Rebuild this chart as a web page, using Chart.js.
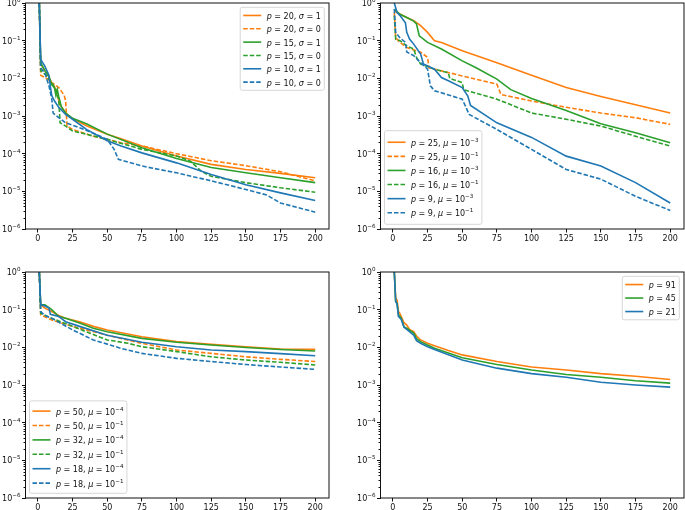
<!DOCTYPE html>
<html>
<head>
<meta charset="utf-8">
<script src="https://cdn.jsdelivr.net/npm/chart.js@4.4.0/dist/chart.umd.min.js"></script>
<style>
  body { margin: 0; background: #fff; overflow: hidden; width: 685px; height: 510px; }
  canvas { position: absolute; }
</style>
</head>
<body>
<canvas id="c1"></canvas>
<canvas id="c2"></canvas>
<canvas id="c3"></canvas>
<canvas id="c4"></canvas>
<script>
// axis ticks ("^" marks a superscript)
const xTicks = [0, 25, 50, 75, 100, 125, 150, 175, 200];
const xTickLabels = ['0', '25', '50', '75', '100', '125', '150', '175', '200'];
const yTicks = [1e-6, 1e-5, 1e-4, 1e-3, 1e-2, 1e-1, 1];
const yTickLabels = ['10^−6', '10^−5', '10^−4', '10^−3', '10^−2', '10^−1', '10^0'];

// top left: [iteration, residual]
const p20s1 = [[1,1],[2,0.024],[5,0.016],[8,0.011],[10,0.0075],[12,0.006],[14,0.0035],[16,0.002],[20,0.0012],[25,8.5e-4],[35,5.5e-4],[50,3.3e-4],[60,2.5e-4],[75,1.6e-4],[100,8.7e-5],[125,5.2e-5],[150,3.8e-5],[175,3.0e-5],[200,2.3e-5]];
const p20s0 = [[1,1],[2,0.012],[5,0.0105],[8,0.009],[10,0.0077],[13,0.0065],[15,0.0057],[17,0.0045],[19,0.0035],[20,0.0025],[21,5.4e-4],[25,4.4e-4],[40,2.9e-4],[50,2.4e-4],[60,1.95e-4],[75,1.6e-4],[100,1.0e-4],[125,6.5e-5],[150,4.8e-5],[175,3.3e-5],[200,1.9e-5]];
const p15s1 = [[1,1],[2,0.026],[5,0.016],[8,0.011],[10,0.0068],[12,0.0055],[13,0.0035],[14,0.005],[15,0.0033],[17,0.0017],[20,0.0012],[25,8.7e-4],[35,6.2e-4],[50,3.3e-4],[75,1.44e-4],[100,7.4e-5],[125,4.3e-5],[150,3.1e-5],[175,2.3e-5],[200,1.7e-5]];
const p15s0 = [[1,1],[2,0.016],[5,0.013],[10,0.0077],[13,0.005],[15,0.0028],[16,6.6e-4],[20,5.4e-4],[25,4.0e-4],[50,2.4e-4],[75,1.3e-4],[100,8.7e-5],[110,6.3e-5],[118,3.4e-5],[125,2.5e-5],[150,1.7e-5],[175,1.24e-5],[200,9.5e-6]];
const p10s1 = [[1,1],[2,0.032],[5,0.021],[8,0.012],[9,0.006],[10,0.0035],[12,0.0025],[15,0.0017],[20,0.0011],[25,8.2e-4],[35,4.4e-4],[50,2.2e-4],[60,1.6e-4],[75,1.05e-4],[100,5.7e-5],[125,2.8e-5],[150,1.5e-5],[175,9.1e-6],[200,5.7e-6]];
const p10s0 = [[1,1],[2,0.019],[5,0.014],[8,0.0063],[10,0.0028],[11,0.0012],[15,9e-4],[20,6.6e-4],[30,4.9e-4],[45,2.9e-4],[50,2.4e-4],[55,1.3e-4],[58,7.1e-5],[75,4.7e-5],[100,3.1e-5],[125,1.9e-5],[150,1.12e-5],[165,8e-6],[175,4.9e-6],[200,2.8e-6]];

// top right
const p25m3 = [[1,0.62],[5,0.51],[10,0.41],[15,0.34],[20,0.25],[25,0.166],[30,0.1],[35,0.09],[50,0.054],[75,0.026],[100,0.012],[125,0.0057],[150,0.0033],[175,0.002],[200,0.0012]];
const p25m1 = [[1,0.56],[2,0.12],[5,0.09],[10,0.066],[20,0.049],[25,0.036],[26,0.019],[30,0.0175],[50,0.0116],[75,0.007],[78,0.0037],[100,0.0025],[125,0.0017],[150,0.0012],[175,9e-4],[200,6e-4]];
const p16m3 = [[1,0.69],[5,0.5],[10,0.41],[15,0.33],[17,0.28],[19,0.135],[25,0.09],[35,0.06],[50,0.029],[60,0.019],[75,0.0095],[85,0.005],[100,0.0029],[125,0.0014],[150,6.2e-4],[175,3.6e-4],[200,1.95e-4]];
const p16m1 = [[1,0.46],[2,0.11],[5,0.1],[10,0.073],[15,0.06],[17,0.036],[20,0.024],[30,0.0175],[40,0.014],[41,0.01],[50,0.0077],[51,0.005],[75,0.0028],[100,0.0012],[125,8.2e-4],[150,5.4e-4],[175,2.9e-4],[200,1.6e-4]];
const p9m3 = [[1,1],[3,0.56],[5,0.47],[9,0.3],[10,0.166],[12,0.11],[15,0.081],[20,0.044],[22,0.024],[30,0.0175],[35,0.0105],[40,0.0086],[50,0.0057],[54,0.0034],[56,0.0019],[75,6.6e-4],[100,2.7e-4],[125,8.6e-5],[150,4.7e-5],[175,1.7e-5],[200,4.9e-6]];
const p9m1 = [[1,0.69],[2,0.166],[5,0.12],[9,0.09],[10,0.05],[15,0.04],[20,0.026],[25,0.0175],[27,0.0063],[30,0.0047],[50,0.0028],[55,0.0011],[75,4.4e-4],[100,1.3e-4],[125,3.8e-5],[150,2.1e-5],[175,7.4e-6],[200,3.1e-6]];

// bottom left
const p50m4 = [[1,1],[2,0.134],[5,0.11],[10,0.089],[15,0.07],[20,0.059],[30,0.048],[40,0.036],[50,0.029],[75,0.019],[100,0.0142],[125,0.012],[150,0.0104],[175,0.009],[200,0.0088]];
const p50m1 = [[1,1],[2,0.073],[10,0.053],[25,0.036],[50,0.021],[75,0.0128],[100,0.0085],[125,0.0069],[150,0.0056],[175,0.0048],[200,0.0042]];
const p32m4 = [[1,1],[2,0.134],[5,0.134],[10,0.1],[15,0.066],[20,0.059],[30,0.044],[40,0.032],[50,0.026],[75,0.0173],[100,0.0136],[125,0.0115],[150,0.0099],[175,0.0088],[200,0.008]];
const p32m1 = [[1,1],[2,0.08],[10,0.059],[25,0.036],[50,0.0157],[65,0.0128],[75,0.0104],[100,0.0077],[125,0.0056],[150,0.0046],[175,0.004],[200,0.0034]];
const p18m4 = [[1,1],[2,0.14],[5,0.125],[8,0.11],[9,0.075],[15,0.066],[20,0.048],[30,0.036],[50,0.021],[75,0.0136],[100,0.0104],[125,0.0085],[150,0.0077],[175,0.0068],[200,0.006]];
const p18m1 = [[1,1],[2,0.089],[5,0.07],[10,0.059],[25,0.029],[40,0.0157],[60,0.0094],[75,0.0069],[100,0.0051],[125,0.0042],[150,0.0035],[175,0.003],[200,0.0026]];

// bottom right
const p91 = [[1,1],[2,0.2],[3,0.18],[4,0.089],[5,0.08],[6,0.066],[8,0.045],[10,0.039],[12,0.03],[15,0.026],[17,0.02],[20,0.0157],[25,0.0128],[30,0.011],[40,0.0082],[50,0.0063],[75,0.0042],[100,0.003],[125,0.0025],[150,0.002],[175,0.0017],[200,0.0014]];
const p45 = [[1,1],[2,0.165],[3,0.15],[4,0.073],[6,0.06],[8,0.035],[10,0.032],[15,0.024],[17,0.017],[20,0.0142],[25,0.0115],[30,0.0095],[50,0.0053],[75,0.0035],[100,0.0025],[125,0.0019],[150,0.0016],[175,0.0013],[200,0.00112]];
const p21 = [[1,1],[2,0.165],[3,0.14],[4,0.066],[6,0.055],[8,0.034],[10,0.03],[15,0.021],[17,0.015],[20,0.0128],[25,0.0104],[30,0.0088],[50,0.0046],[75,0.0028],[100,0.002],[125,0.0016],[150,0.00118],[175,0.001],[200,8.8e-4]];

const names1 = ['p = 20, σ = 1', 'p = 20, σ = 0', 'p = 15, σ = 1', 'p = 15, σ = 0', 'p = 10, σ = 1', 'p = 10, σ = 0'];
const names2 = ['p = 25, μ = 10^−3', 'p = 25, μ = 10^−1', 'p = 16, μ = 10^−3', 'p = 16, μ = 10^−1', 'p = 9, μ = 10^−3', 'p = 9, μ = 10^−1'];
const names3 = ['p = 50, μ = 10^−4', 'p = 50, μ = 10^−1', 'p = 32, μ = 10^−4', 'p = 32, μ = 10^−1', 'p = 18, μ = 10^−4', 'p = 18, μ = 10^−1'];
const names4 = ['p = 91', 'p = 45', 'p = 21'];

const ORANGE = '#ff7f0e', GREEN = '#2ca02c', BLUE = '#1f77b4';
const colors6 = [ORANGE, ORANGE, GREEN, GREEN, BLUE, BLUE];
const dash6 = [false, true, false, true, false, true];
const FONT = '"DejaVu Sans", sans-serif';
const INK = '#111';
const FS = 8;

// tiny mathtext: p/σ/μ italic, "^xx" superscript
const mathRuns = (t) => {
  const out = [];
  t.replace(/\^(\S+)|([pσμ])|([^pσμ^]+)/g, (m, sup, it, plain) => {
    if (sup) out.push({ s: sup, sup: true });
    else if (it) out.push({ s: it, it: true });
    else out.push({ s: plain });
    return m;
  });
  return out;
};
const runFont = (r) => (r.it ? 'italic ' : '') + (r.sup ? FS * 0.7 : FS) + 'px ' + FONT;
const mathWidth = (ctx, t) => mathRuns(t).reduce((w, r) => {
  ctx.font = runFont(r);
  return w + ctx.measureText(r.s).width;
}, 0);
// x = left edge, y = vertical centre of the digits
const drawMath = (ctx, t, x, y) => {
  const base = y + FS * 0.365;
  ctx.textBaseline = 'alphabetic';
  ctx.textAlign = 'left';
  mathRuns(t).forEach((r) => {
    ctx.font = runFont(r);
    ctx.fillText(r.s, x, r.sup ? base - FS * 0.5 : base);
    x += ctx.measureText(r.s).width;
  });
};

// box around the plot area, minor ticks and y labels of the log axis
const framePlugin = {
  id: 'frame',
  afterDatasetsDraw(chart) {
    const { ctx, chartArea: a } = chart;
    const y = chart.scales.y;
    ctx.save();
    ctx.strokeStyle = INK;
    ctx.lineWidth = 1;
    ctx.strokeRect(a.left, a.top, a.right - a.left, a.bottom - a.top);
    ctx.beginPath();
    for (let e = -6; e < 0; e++) {
      for (let k = 2; k < 10; k++) {
        const py = Math.round(y.getPixelForValue(k * Math.pow(10, e))) + 0.5;
        ctx.moveTo(a.left - 2, py);
        ctx.lineTo(a.left, py);
      }
    }
    ctx.stroke();
    ctx.fillStyle = INK;
    yTicks.forEach((v, i) => {
      const w = mathWidth(ctx, yTickLabels[i]);
      drawMath(ctx, yTickLabels[i], a.left - 5 - w, y.getPixelForValue(v));
    });
    ctx.restore();
  }
};

// matplotlib-like legend box
const legendPlugin = {
  id: 'mplLegend',
  afterDraw(chart, args, o) {
    const { ctx, chartArea: a } = chart;
    const ds = chart.data.datasets;
    ctx.save();
    const textW = Math.max(...ds.map((d) => mathWidth(ctx, d.label)));
    const padL = 3, handle = 18, gap = 5.5, padR = 3.5;
    const w = padL + handle + gap + textW + padR;
    const h = ds.length * o.rowH + o.padY * 2;
    const x = o.loc === 'ur' ? a.right - 4.7 - w : a.left + 4;
    const y = o.loc === 'ur' ? a.top + 4.3 : a.bottom - 4.7 - h;

    ctx.beginPath();
    ctx.roundRect(x, y, w, h, 2);
    ctx.fillStyle = 'rgba(255,255,255,0.8)';
    ctx.fill();
    ctx.strokeStyle = '#d6d6d6';
    ctx.lineWidth = 1;
    ctx.stroke();

    ds.forEach((d, i) => {
      const cy = y + o.padY + o.rowH * (i + 0.5);
      ctx.beginPath();
      ctx.strokeStyle = d.borderColor;
      ctx.lineWidth = d.borderWidth;
      ctx.setLineDash(d.borderDash);
      ctx.moveTo(x + padL, cy);
      ctx.lineTo(x + padL + handle, cy);
      ctx.stroke();
      ctx.setLineDash([]);
      ctx.fillStyle = INK;
      drawMath(ctx, d.label, x + padL + handle + gap, cy + 0.5);
    });
    ctx.restore();
  }
};

// box: canvas position/size (cx, cy, cw, ch) and plot area edges (l, t, r, b) in page pixels
const makeChart = (id, box, series, names, colors, dashes, legend) => {
  const el = document.getElementById(id);
  el.style.left = box.cx + 'px';
  el.style.top = box.cy + 'px';
  el.width = box.cw;
  el.height = box.ch;

  const tickFont = { family: FONT, size: FS };
  const grid = { display: true, drawOnChartArea: false, drawTicks: true, tickLength: 3.5, tickColor: INK, tickWidth: 1 };

  return new Chart(el, {
    type: 'line',
    data: {
      datasets: series.map((d, i) => ({
        data: d,
        label: names[i],
        borderColor: colors[i],
        borderWidth: 1.6,
        borderDash: dashes[i] ? [4.5, 2] : [],
        pointRadius: 0,
        fill: false,
        tension: 0,
        order: -i, // later series on top, as in matplotlib
      })),
    },
    options: {
      responsive: false,
      animation: false,
      devicePixelRatio: 1,
      layout: { padding: { top: box.t - box.cy, right: box.cx + box.cw - box.r, left: 0, bottom: 0 } },
      plugins: {
        legend: { display: false },
        tooltip: { enabled: false },
        mplLegend: legend,
      },
      scales: {
        x: {
          type: 'linear',
          min: -8.95,
          max: 209.95,
          afterBuildTicks: (s) => { s.ticks = xTicks.map((v) => ({ value: v })); },
          afterFit: (s) => { s.height = box.cy + box.ch - box.b; },
          ticks: { callback: (v, i) => xTickLabels[i], font: tickFont, color: INK, padding: 2, maxRotation: 0, autoSkip: false },
          grid,
          border: { display: false },
        },
        y: {
          type: 'logarithmic',
          min: 1e-6,
          max: 1,
          afterBuildTicks: (s) => { s.ticks = yTicks.map((v) => ({ value: v })); },
          afterFit: (s) => { s.width = box.l - box.cx; },
          ticks: { display: false }, // labels drawn by framePlugin with superscripts
          grid,
          border: { display: false },
        },
      },
    },
    plugins: [framePlugin, legendPlugin],
  });
};

makeChart('c1', { cx: 0, cy: -10, cw: 342, ch: 262, l: 25.5, t: 3, r: 329, b: 229 },
  [p20s1, p20s0, p15s1, p15s0, p10s1, p10s0], names1, colors6, dash6,
  { loc: 'ur', rowH: 13.33, padY: 1.5 });

makeChart('c2', { cx: 342, cy: -10, cw: 343, ch: 262, l: 380.5, t: 3, r: 684, b: 229 },
  [p25m3, p25m1, p16m3, p16m1, p9m3, p9m1], names2, colors6, dash6,
  { loc: 'll', rowH: 14.1, padY: 4.5 });

makeChart('c3', { cx: 0, cy: 252, cw: 342, ch: 280, l: 25.5, t: 272, r: 329, b: 498 },
  [p50m4, p50m1, p32m4, p32m1, p18m4, p18m1], names3, colors6, dash6,
  { loc: 'll', rowH: 14.4, padY: 3 });

makeChart('c4', { cx: 342, cy: 252, cw: 343, ch: 280, l: 380.5, t: 272, r: 684, b: 498 },
  [p91, p45, p21], names4, [ORANGE, GREEN, BLUE], [false, false, false],
  { loc: 'ur', rowH: 13.5, padY: 1.5 });
</script>
</body>
</html>
